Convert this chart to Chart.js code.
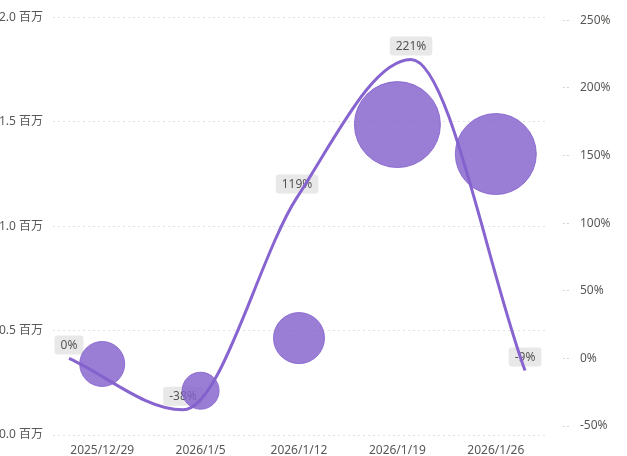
<!DOCTYPE html>
<html>
<head>
<meta charset="utf-8">
<script src="https://cdn.jsdelivr.net/npm/chart.js@4"></script>
<style>
  html, body { margin: 0; padding: 0; background: #ffffff; }
  #wrap { width: 627px; height: 456px; }
</style>
</head>
<body>
<div id="wrap"><canvas id="c" width="627" height="456"></canvas></div>
<script>
// ---- data ----
const categories = ['2025/12/29', '2026/1/5', '2026/1/12', '2026/1/19', '2026/1/26'];
const valuesMillion = [0.340, 0.212, 0.464, 1.486, 1.345];   // bubble height (百万)
const bubbleSize = [22.5, 18.5, 25.5, 43, 40.5];             // bubble size dimension
const growthPct = [0, -38, 119, 221, -9];                    // line (%)
const leftTicks = [0, 0.5, 1.0, 1.5, 2.0];
const rightTicks = [-50, 0, 50, 100, 150, 200, 250];

const FONT = '"Segoe UI", "Noto Sans", "Noto Sans CJK SC", sans-serif';
Chart.defaults.font.family = FONT;
Chart.defaults.font.size = 12;
Chart.defaults.color = '#5a5856';

const bubbleData = categories.map((c, i) => ({ x: c, y: valuesMillion[i], r: bubbleSize[i] }));
const lineData = growthPct.map((v, i) => ({ x: i, y: v }));

const labelPlugin = {
  id: 'pctLabels',
  beforeDatasetsDraw(chart) {
    const meta = chart.getDatasetMeta(1);
    const ctx = chart.ctx;
    ctx.save();
    ctx.font = '12px ' + FONT;
    ctx.textAlign = 'center';
    ctx.textBaseline = 'middle';
    meta.data.forEach((pt, i) => {
      const txt = growthPct[i] + '%';
      const w = ctx.measureText(txt).width + 12;
      const h = 19;
      const cx = pt.x, cy = pt.y - 13.5;
      ctx.fillStyle = '#e8e8e8';
      ctx.beginPath();
      ctx.roundRect(cx - w / 2, cy - h / 2, w, h, 3);
      ctx.fill();
      ctx.fillStyle = '#555555';
      ctx.fillText(txt, cx, cy + 0.5);
    });
    ctx.restore();
  }
};

new Chart(document.getElementById('c'), {
  type: 'bubble',
  data: {
    datasets: [
      {
        type: 'bubble',
        label: 'value',
        data: bubbleData,
        xAxisID: 'x',
        yAxisID: 'y',
        backgroundColor: 'rgba(132,97,204,0.82)',
        borderColor: 'rgba(132,97,204,0.85)',
        borderWidth: 1,
        order: 0
      },
      {
        type: 'line',
        label: 'growth',
        data: lineData,
        xAxisID: 'xl',
        yAxisID: 'yr',
        borderColor: '#8764cf',
        borderWidth: 3,
        pointRadius: 0,
        fill: false,
        cubicInterpolationMode: 'monotone',
        order: 1
      }
    ]
  },
  options: {
    responsive: false,
    animation: false,
    devicePixelRatio: 1,
    layout: { autoPadding: false, padding: { top: 15, left: 0, right: 0, bottom: 0 } },
    plugins: { legend: { display: false }, tooltip: { enabled: false } },
    scales: {
      x: {
        type: 'category',
        labels: categories,
        offset: true,
        position: 'bottom',
        grid: { display: false },
        border: { display: false },
        ticks: { padding: 0, maxRotation: 0, autoSkip: false, color: '#5a5856' },
        afterFit(s) { s.height = 21; }
      },
      xl: {
        type: 'linear',
        display: false,
        min: -0.1404,
        max: 4.175
      },
      y: {
        type: 'linear',
        position: 'left',
        min: 0,
        max: 2.0,
        afterBuildTicks(s) { s.ticks = leftTicks.map(v => ({ value: v })); },
        ticks: {
          padding: 10,
          color: '#5a5856',
          callback: v => Number(v).toFixed(1) + ' 百万'
        },
        grid: { color: '#e1e1e1', lineWidth: 1, drawTicks: false },
        border: { display: false, dash: [2, 3] },
        afterFit(s) { s.width = 53; }
      },
      yr: {
        type: 'linear',
        position: 'right',
        min: -56.6,
        max: 252.2,
        afterBuildTicks(s) { s.ticks = rightTicks.map(v => ({ value: v })); },
        ticks: {
          padding: 10,
          color: '#5a5856',
          callback: v => v + '%'
        },
        grid: {
          drawOnChartArea: false,
          drawTicks: true,
          tickLength: 25,
          tickColor: '#d6d6d6',
          tickWidth: 1,
          tickBorderDash: [0, 18, 2, 2, 2, 40]
        },
        border: { display: false },
        afterFit(s) { s.width = 82; }
      }
    }
  },
  plugins: [labelPlugin]
});
</script>
</body>
</html>
